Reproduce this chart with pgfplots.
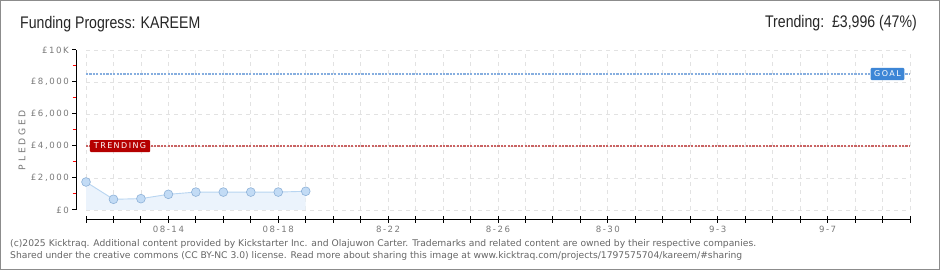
\documentclass[border=0pt]{standalone}
\usepackage{pgfplots}
\usepackage{pgfplotstable}
\pgfplotsset{compat=1.18}
\usepackage{fontspec}
\setmainfont{DejaVu Sans}
\newfontfamily\narrowfont[FakeStretch=0.84]{Liberation Sans}
\newfontfamily\tickfont[LetterSpace=18]{DejaVu Sans}
\newfontfamily\labelfont[LetterSpace=30]{DejaVu Sans}
\definecolor{gridc}{HTML}{E2E2E2}
\definecolor{tickc}{HTML}{7A7A7A}
\definecolor{fillc}{HTML}{EBF3FC}
\definecolor{linec}{HTML}{B8D5F1}
\definecolor{markc}{HTML}{C2DBF5}
\definecolor{markedge}{HTML}{8DB1D8}
\definecolor{goalc}{HTML}{86AEDF}
\definecolor{goalbox}{HTML}{3D86D6}
\definecolor{trendc}{HTML}{C96363}
\definecolor{trendbox}{HTML}{B50000}
\definecolor{footc}{HTML}{666666}

\pgfplotstableread{
day pledged
0 1750
1 670
2 710
3 980
4 1120
5 1120
6 1120
7 1120
8 1170
}\pledgedata

\begin{document}
\begin{tikzpicture}[x=1pt,y=1pt]
\useasboundingbox (0,0) rectangle (940,270);
\fill[white] (0,0) rectangle (940,270);
\draw[color=gray!90, line width=1.2pt] (0.6,0.6) rectangle (939.4,269.4);

\begin{axis}[
  scale only axis,
  width=824pt, height=160pt,
  at={(86pt,60pt)}, anchor=south west,
  xmin=0, xmax=30, ymin=0, ymax=10000,
  scaled y ticks=false, scaled x ticks=false,
  xtick={0,1,...,30}, ytick={0,2000,4000,6000,8000,10000},
  xticklabel=\empty, yticklabel=\empty,
  major tick length=0pt,
  axis line style={draw=none},
  grid=major,
  grid style={gridc, dash pattern=on 4pt off 4pt, line width=0.8pt},
  clip=false,
]
\addplot[draw=none, fill=fillc] table[x=day,y=pledged]{\pledgedata} \closedcycle;
\addplot[linec, line width=0.9pt, mark=*, mark size=4.4pt,
  mark options={fill=markc, draw=markedge, line width=0.6pt}]
  table[x=day,y=pledged]{\pledgedata};
\addplot[goalc, line width=2.8pt, dash pattern=on 2.2pt off 1.2pt] coordinates {(0,8500) (30,8500)};
\addplot[trendc, line width=2.8pt, dash pattern=on 2.2pt off 1.2pt] coordinates {(0,3996) (30,3996)};
\node[fill=trendbox, text=white, font=\tickfont\fontsize{8}{8}\selectfont, inner xsep=4pt, inner ysep=3pt, rounded corners=1pt]
  at (axis cs:1.24,3996) {TRENDING};
\node[fill=goalbox, text=white, font=\tickfont\fontsize{8}{8}\selectfont, inner xsep=3.5pt, inner ysep=3pt, rounded corners=1pt]
  at (axis cs:29.18,8500) {GOAL};
\end{axis}

% y axis
\draw[black, line width=1pt] (76,60) -- (76,220);
\foreach \v in {0,2,4,6,8,10} { \draw[black, line width=1pt] (72,60+16*\v) -- (76,60+16*\v); }
\foreach \v in {1,3,5,7,9} { \draw[red, line width=1pt] (72.5,60+16*\v) -- (76,60+16*\v); }
\foreach \v/\t in {0/{£0},2/{£2,000},4/{£4,000},6/{£6,000},8/{£8,000},10/{£10K}} {
  \node[anchor=east, text=tickc, font=\tickfont\fontsize{8.6}{9}\selectfont, inner sep=0pt] at (69,60+16*\v) {\t};
}
\node[rotate=90, text=tickc, font=\labelfont\fontsize{9.2}{9}\selectfont, inner sep=0pt] at (22,130) {PLEDGED};

% x axis
\draw[black, line width=1pt] (86,50) -- (910,50);
\foreach \d in {0,...,30} { \draw[black, line width=1pt] (86+27.4667*\d,47) -- (86+27.4667*\d,53.5); }
\foreach \d/\t in {3/{08-14},7/{08-18},11/{8-22},15/{8-26},19/{8-30},23/{9-3},27/{9-7}} {
  \node[text=tickc, font=\tickfont\fontsize{8.6}{9}\selectfont, inner sep=0pt] at (86+27.4667*\d,40.5) {\t};
}

% titles
\node[anchor=base west, inner sep=0pt, text=black!85, font=\narrowfont\fontsize{16.8}{17}\selectfont] at (20,241) {Funding Progress: KAREEM};
\node[anchor=base east, inner sep=0pt, text=black!85, font=\narrowfont\fontsize{16.8}{17}\selectfont] at (917,242) {Trending:\ \ £3,996 (47\%)};

% footer
\node[anchor=base west, inner sep=0pt, text=footc, font=\fontsize{9.2}{9}\selectfont] at (10,23) {(c)2025 Kicktraq. Additional content provided by Kickstarter Inc. and Olajuwon Carter. Trademarks and related content are owned by their respective companies.};
\node[anchor=base west, inner sep=0pt, text=footc, font=\fontsize{9.2}{9}\selectfont] at (10,11) {Shared under the creative commons (CC BY-NC 3.0) license. Read more about sharing this image at www.kicktraq.com/projects/1797575704/kareem/\#sharing};
\end{tikzpicture}
\end{document}
